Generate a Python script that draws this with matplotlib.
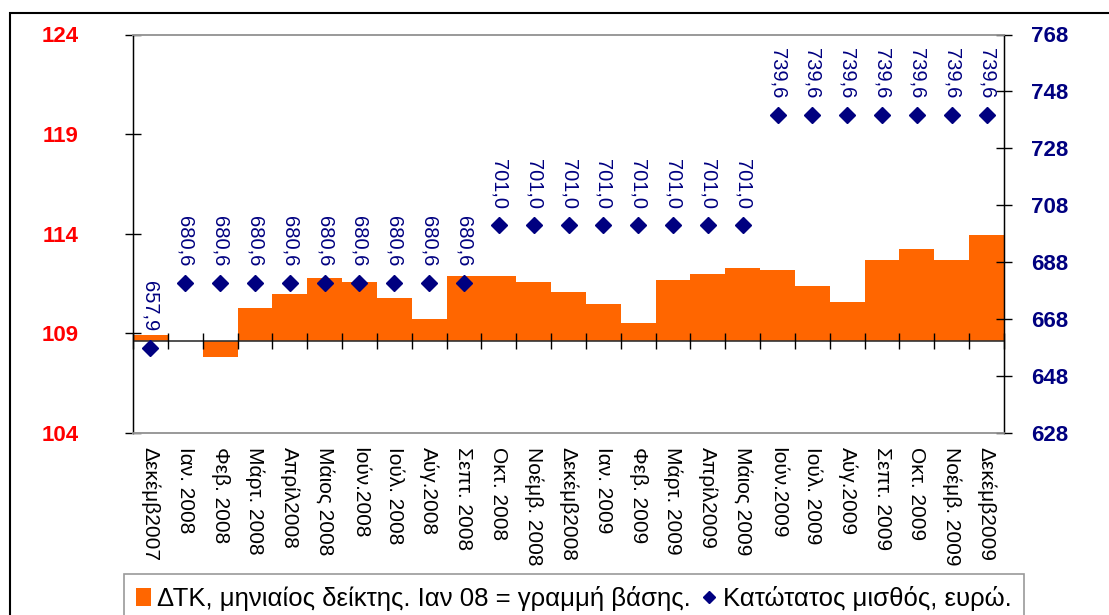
import matplotlib
matplotlib.use("Agg")
import matplotlib.pyplot as plt
from matplotlib.patches import Rectangle
import numpy as np

plt.rcParams['font.family'] = ['Liberation Sans', 'DejaVu Sans']

months = ["Δεκέμβ2007", "Ιαν. 2008", "Φεβ. 2008", "Μάρτ. 2008", "Απρίλ2008",
          "Μάιος 2008", "Ιούν.2008", "Ιούλ. 2008", "Αύγ.2008", "Σεπτ. 2008",
          "Οκτ. 2008", "Νοέμβ. 2008", "Δεκέμβ2008", "Ιαν. 2009", "Φεβ. 2009",
          "Μάρτ. 2009", "Απρίλ2009", "Μάιος 2009", "Ιούν.2009", "Ιούλ. 2009",
          "Αύγ.2009", "Σεπτ. 2009", "Οκτ. 2009", "Νοέμβ. 2009", "Δεκέμβ2009"]

cpi = [108.92, 108.63, 107.83, 110.27, 110.97, 111.77, 111.57, 110.77, 109.72,
       111.87, 111.87, 111.57, 111.07, 110.47, 109.52, 111.67, 111.97, 112.27,
       112.17, 111.37, 110.57, 112.67, 113.22, 112.67, 113.92]
baseline = 108.63  # Ιαν 08 value

wage = [657.9] + [680.6] * 9 + [701.0] * 8 + [739.6] * 7

left_ticks = [104, 109, 114, 119, 124]
right_ticks = [628, 648, 668, 688, 708, 728, 748, 768]

W, H = 1109, 615
fig = plt.figure(figsize=(W / 100, H / 100), dpi=100)
ax = fig.add_axes([133 / W, 1 - 433 / H, (1004 - 133) / W, (433 - 34.5) / H])

x = np.arange(len(months))
heights = [v - baseline for v in cpi]
ax.bar(x, heights, bottom=baseline, width=1.0, color='#FF6600', linewidth=0,
       label='ΔΤΚ, μηνιαίος δείκτης. Ιαν 08 = γραμμή βάσης.', zorder=2)

# category axis crossing at the baseline, with ticks between categories
ax.axhline(baseline, color='#333333', linewidth=1.2, zorder=3)
bounds = np.arange(len(months) + 1) - 0.5
ax.plot(bounds, [baseline] * len(bounds), linestyle='none', marker='|',
        markersize=11, markeredgewidth=1, color='black', zorder=3, clip_on=False)

ax.set_xlim(-0.5, len(months) - 0.5)
ax.set_ylim(left_ticks[0], left_ticks[-1])
ax.set_yticks(left_ticks)
ax.set_yticklabels([str(t) for t in left_ticks], color='#FF0000',
                   fontsize=16, fontweight='bold')
ax.tick_params(axis='y', direction='inout', length=12, width=1, pad=33)
ax.set_xticks(x)
ax.set_xticklabels(months, rotation=270, fontsize=15, color='black')
ax.tick_params(axis='x', length=0, pad=10)

for s in ['top', 'bottom']:
    ax.spines[s].set_color('#999999')
    ax.spines[s].set_linewidth(1.2)
for s in ['left', 'right']:
    ax.spines[s].set_color('black')
    ax.spines[s].set_linewidth(1)

ax2 = ax.twinx()
ax2.set_ylim(right_ticks[0], right_ticks[-1])
ax2.set_yticks(right_ticks)
ax2.set_yticklabels([str(t) for t in right_ticks], color='#000080',
                    fontsize=16, fontweight='bold')
ax2.tick_params(axis='y', direction='inout', length=11, width=1, pad=14)
for s in ['top', 'bottom']:
    ax2.spines[s].set_color('#999999')
    ax2.spines[s].set_linewidth(1.2)
for s in ['left', 'right']:
    ax2.spines[s].set_color('black')

ax2.plot(x, wage, linestyle='none', marker='D', markersize=8.5, color='#000080',
         label='Κατώτατος μισθός, ευρώ.')
for xi, w in zip(x, wage):
    ax2.annotate(f"{w:.1f}".replace('.', ','), (xi, w), xytext=(0, 12),
                 textcoords='offset points', rotation=270, ha='center', va='bottom',
                 fontsize=14.5, color='#000080')

h1, l1 = ax.get_legend_handles_labels()
h2, l2 = ax2.get_legend_handles_labels()
leg = fig.legend(h1 + h2, l1 + l2, loc='upper left',
                 bbox_to_anchor=(124 / W, 1 - 574 / H), ncol=2, fontsize=18.5,
                 frameon=True, fancybox=False, edgecolor='#808080',
                 handlelength=0.6, handletextpad=0.25, columnspacing=0.4,
                 borderpad=0.45, borderaxespad=0, markerscale=0.7)
leg.get_frame().set_linewidth(1.2)

fig.patches.append(Rectangle((9.5 / W, -0.2), 1.2, 1 - 13 / H + 0.2,
                             transform=fig.transFigure, fill=False,
                             edgecolor='black', linewidth=1.5))

fig.savefig('out.png', dpi=100)
